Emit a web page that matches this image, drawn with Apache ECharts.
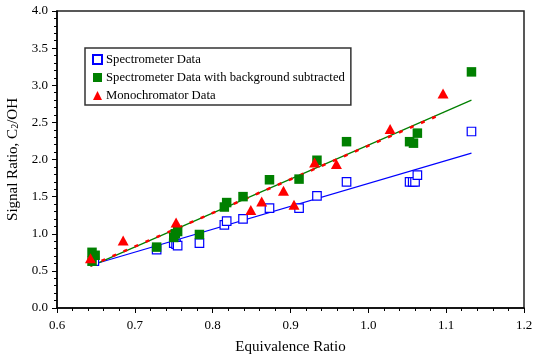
<!DOCTYPE html>
<html>
<head>
<meta charset="utf-8">
<script src="https://cdn.jsdelivr.net/npm/echarts@6/dist/echarts.min.js"></script>
<style>html,body{margin:0;padding:0;background:#fff}#c{width:534px;height:357px}</style>
</head>
<body>
<div id="c"></div>
<script>
var xTicks = [0.6, 0.7, 0.8, 0.9, 1.0, 1.1, 1.2];
var yTicks = [0.0, 0.5, 1.0, 1.5, 2.0, 2.5, 3.0, 3.5, 4.0];

var spectrometerData = [
  [0.648, 0.63], [0.728, 0.785], [0.750, 0.875], [0.753, 0.86], [0.755, 0.84],
  [0.783, 0.875], [0.815, 1.12], [0.818, 1.17], [0.839, 1.20], [0.873, 1.346],
  [0.911, 1.346], [0.934, 1.51], [0.972, 1.70], [1.053, 1.70], [1.057, 1.70],
  [1.060, 1.70], [1.063, 1.79], [1.1325, 2.377]
];
var backgroundSubtractedData = [
  [0.645, 0.75], [0.649, 0.71], [0.645, 0.63], [0.728, 0.82], [0.750, 0.95],
  [0.752, 1.00], [0.755, 1.03], [0.783, 0.99], [0.815, 1.36], [0.818, 1.42],
  [0.839, 1.50], [0.873, 1.727], [0.911, 1.736], [0.934, 1.99], [0.972, 2.24],
  [1.053, 2.24], [1.058, 2.22], [1.063, 2.355], [1.1325, 3.18]
];
var monochromatorData = [
  [0.643, 0.67], [0.685, 0.91], [0.753, 1.15], [0.849, 1.32], [0.863, 1.435],
  [0.891, 1.58], [0.9045, 1.39], [0.931, 1.96], [0.959, 1.94], [1.028, 2.41],
  [1.096, 2.89]
];
var spectrometerFit = [[0.645, 0.583], [1.1325, 2.086]];
var backgroundSubtractedFit = [[0.643, 0.56], [1.1325, 2.80]];
var monochromatorFit = [[0.643, 0.57], [1.096, 2.62]];

var serif = '"Liberation Serif", "Times New Roman", serif';
var chart = echarts.init(document.getElementById('c'));
chart.setOption({
  animation: false,
  backgroundColor: '#fff',
  textStyle: { fontFamily: serif },
  grid: { left: 57, right: 10, top: 11, bottom: 49, containLabel: false, outerBoundsMode: 'none',
    show: true, borderColor: '#222', borderWidth: 1.5, backgroundColor: 'transparent' },
  legend: {
    orient: 'vertical',
    left: 85, top: 48,
    padding: [5, 6, 3, 7],
    itemGap: 5,
    itemWidth: 9, itemHeight: 9,
    borderColor: '#333', borderWidth: 1.5,
    backgroundColor: '#fff',
    textStyle: { fontFamily: serif, fontSize: 12.7, color: '#000', padding: [0, 0, 0, -1] },
    data: ['Spectrometer Data', 'Spectrometer Data with background subtracted', 'Monochromator Data']
  },
  xAxis: {
    type: 'value', min: xTicks[0], max: xTicks[xTicks.length - 1], interval: 0.1,
    name: 'Equivalence Ratio', nameLocation: 'middle', nameGap: 32,
    nameTextStyle: { fontFamily: serif, fontSize: 15, color: '#000' },
    axisLine: { show: true, onZero: false, lineStyle: { color: '#000', width: 1.5 } },
    axisTick: { show: true, length: 5, lineStyle: { color: '#000', width: 1 } },
    minorTick: { show: true, splitNumber: 5, length: 3, lineStyle: { color: '#000', width: 1 } },
    splitLine: { show: false },
    axisLabel: { fontFamily: serif, fontSize: 13, color: '#000', margin: 11, formatter: function (v) { return v.toFixed(1); } }
  },
  yAxis: {
    type: 'value', min: yTicks[0], max: yTicks[yTicks.length - 1], interval: 0.5,
    name: 'Signal Ratio, C{sub|2}/OH', nameLocation: 'middle', nameGap: 32, nameRotate: 90,
    nameTextStyle: { fontFamily: serif, fontSize: 15, color: '#000',
      rich: { sub: { fontFamily: serif, fontSize: 10, color: '#000', verticalAlign: 'bottom', padding: [6, 0, 0, 0] } } },
    axisLine: { show: true, onZero: false, lineStyle: { color: '#000', width: 1.5 } },
    axisTick: { show: true, length: 5, lineStyle: { color: '#000', width: 1 } },
    minorTick: { show: true, splitNumber: 5, length: 3, lineStyle: { color: '#000', width: 1 } },
    splitLine: { show: false },
    axisLabel: { fontFamily: serif, fontSize: 13, color: '#000', margin: 9, formatter: function (v) { return v.toFixed(1); } }
  },
  series: [
    { name: 'fit1', type: 'line', data: spectrometerFit, symbol: 'none', silent: true, z: 1,
      lineStyle: { color: '#0000ff', width: 1.2 } },
    { name: 'fit2', type: 'line', data: backgroundSubtractedFit, symbol: 'none', silent: true, z: 1,
      lineStyle: { color: '#008000', width: 1.2 } },
    { name: 'fit3', type: 'line', data: monochromatorFit, symbol: 'none', silent: true, z: 2,
      lineStyle: { color: '#ff0000', width: 2.5, type: [4, 8] } },
    { name: 'Spectrometer Data', type: 'scatter', data: spectrometerData, symbol: 'rect', symbolSize: 8.5, z: 3,
      itemStyle: { color: '#fff', borderColor: '#0000ff', borderWidth: 1.2, opacity: 1 } },
    { name: 'Spectrometer Data with background subtracted', type: 'scatter', data: backgroundSubtractedData, symbol: 'rect', symbolSize: 9.5, z: 4,
      itemStyle: { color: '#008000', opacity: 1 } },
    { name: 'Monochromator Data', type: 'scatter', data: monochromatorData, symbol: 'triangle', symbolSize: [11, 10], z: 5,
      itemStyle: { color: '#ff0000', opacity: 1 } }
  ]
});
</script>
</body>
</html>
